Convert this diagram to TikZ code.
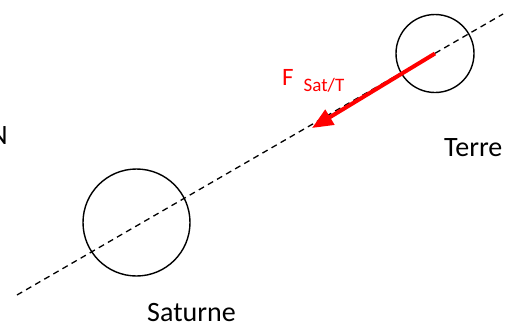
\documentclass[tikz,border=0pt]{standalone}
\usepackage{fontspec}
\setmainfont{Carlito}
\usetikzlibrary{arrows.meta}

\begin{document}
\begin{tikzpicture}[x=1pt,y=-1pt,>={Triangle[length=21pt,width=17pt]},
  planet/.style={draw,circle,line width=1.4pt,inner sep=0pt},
  lbl/.style={inner sep=0pt,font=\fontsize{28}{32}\selectfont}]
  \clip (0,0) rectangle (520,325);
  \coordinate (a) at (17,295);
  \coordinate (b) at (503,14);
  \draw[line width=1.3pt,dash pattern=on 6pt off 4.5pt] (a) -- (b);
  \node[planet,minimum size=78pt] (terre) at (435,53.5) {};
  \node[planet,minimum size=107pt] (saturne) at (136.5,222.5) {};
  \coordinate (tip) at (312,128);
  \draw[->,red,line width=4pt] (terre.center) -- (tip);
  \node[red,inner sep=0pt,anchor=base west,font=\fontsize{25}{30}\selectfont] (f) at (282,85)
    {F\hspace{10pt}\raisebox{-6pt}{\fontsize{19}{22}\selectfont Sat/T}};
  \node[lbl,anchor=base west] (nterre) at (444,156) {Terre};
  \node[lbl,anchor=base] (nsaturne) at (191.5,321) {Saturne};
  \node[lbl,anchor=base east] (n) at (8,144) {N};
\end{tikzpicture}
\end{document}
